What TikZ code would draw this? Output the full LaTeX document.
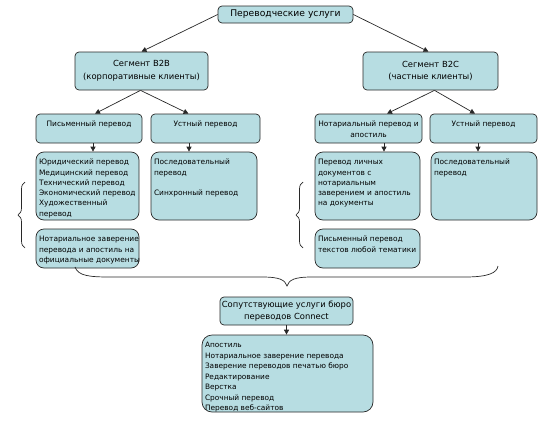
\documentclass[tikz,border=0pt]{standalone}
\usepackage{fontspec}
\setmainfont{DejaVu Sans}
\usepackage{tikz}
\usetikzlibrary{arrows.meta,positioning,decorations.pathreplacing}

\definecolor{cardfill}{RGB}{183,221,226}
\definecolor{cardline}{RGB}{40,40,40}

% text block pinned to the top of a card, lines kept as written
\newcommand{\toptext}[3]{\parbox[c][#2][t]{#1}{\vspace*{2.5pt}\begin{tabular}[t]{@{}l@{}}#3\end{tabular}}}
\newcommand{\topmid}[3]{\parbox[c][#2][t]{#1}{\centering\vspace*{2.5pt}\begin{tabular}[t]{@{}c@{}}#3\end{tabular}}}

\begin{document}
\begin{tikzpicture}[
    x=1pt, y=-1pt,
    card/.style={draw=cardline, fill=cardfill, line width=0.7pt, rounded corners=4pt, inner sep=3pt, align=center},
    bigcard/.style={card, rounded corners=8pt},
    headtext/.style={font=\fontsize{9.2}{11}\selectfont},
    segtext/.style={font=\fontsize{8.4}{12.5}\selectfont},
    smalltext/.style={font=\fontsize{7.45}{10.3}\selectfont},
    listtext/.style={font=\fontsize{7.4}{10.5}\selectfont},
    myedge/.style={-{Triangle[length=5pt,width=5pt]}, line width=0.7pt, cardline},
    bracket/.style={line width=0.7pt, cardline}
]
\useasboundingbox (0,0) rectangle (556,431);

% top level
\node[card, headtext, minimum width=135pt, minimum height=17pt, inner sep=0pt] (uslugi) at (285.5,14.5) {Переводческие услуги};

% segments
\node[card, segtext, minimum width=133pt, minimum height=38pt, inner sep=0pt] (b2b) at (141.5,71) {Сегмент B2B\\(корпоративные клиенты)};
\node[card, segtext, minimum width=135pt, minimum height=38pt, inner sep=0pt] (b2c) at (430.5,71) {Сегмент B2C\\(частные клиенты)};

% kinds of translation
\node[card, smalltext] (pis) at (89,128.5) {\topmid{100pt}{23pt}{Письменный перевод}};
\node[card, smalltext] (ustA) at (205.5,128.5) {\topmid{103pt}{23pt}{Устный перевод}};
\node[card, smalltext] (notar) at (368.5,128.5) {\topmid{101pt}{23pt}{Нотариальный перевод и\\апостиль}};
\node[card, smalltext] (ustB) at (483.5,128.5) {\topmid{101pt}{23pt}{Устный перевод}};

% B2B details
\node[bigcard, smalltext] (jur) at (87.5,186) {\toptext{97pt}{62pt}{Юридический перевод\\Медицинский перевод\\Технический перевод\\Экономический перевод\\Художественный\\перевод}};
\node[bigcard, smalltext] (zaver) at (87.5,248.5) {\toptext{97pt}{33pt}{Нотариальное заверение\\перевода и апостиль на\\официальные документы}};
\node[bigcard, smalltext] (posl) at (204,186) {\toptext{100pt}{62pt}{Последовательный\\перевод\\[10.3pt]Синхронный перевод}};

% B2C details
\node[bigcard, smalltext] (lichn) at (367.5,186) {\toptext{99pt}{62pt}{Перевод личных\\документов с\\нотариальным\\заверением и апостиль\\на документы}};
\node[bigcard, smalltext] (tekst) at (367.5,248.5) {\toptext{99pt}{33pt}{Письменный перевод\\текстов любой тематики}};
\node[bigcard, smalltext] (poslB) at (484,186) {\toptext{100pt}{62pt}{Последовательный\\перевод}};

% related services
\node[card, segtext, minimum width=133pt, minimum height=28pt, inner sep=0pt] (sop) at (286.5,311) {Сопутствующие услуги бюро\\переводов Connect};
\node[bigcard, listtext, rounded corners=10pt] (spisok) at (287.5,373.5) {\toptext{165pt}{71pt}{Апостиль\\Нотариальное заверение перевода\\Заверение переводов печатью бюро\\Редактирование\\Верстка\\Срочный перевод\\Перевод веб-сайтов}};

% arrows
\draw[myedge] (uslugi.west) -- (b2b.north);
\draw[myedge] (uslugi.east) -- ([xshift=-2pt]b2c.north);
\draw[myedge] ([xshift=-1pt]b2b.south) -- ([xshift=6pt]pis.north);
\draw[myedge] ([xshift=-1pt]b2b.south) -- ([xshift=-17pt]ustA.north);
\draw[myedge] ([xshift=4pt]b2c.south) -- ([xshift=18.5pt]notar.north);
\draw[myedge] ([xshift=4pt]b2c.south) -- ([xshift=-8.5pt]ustB.north);
\draw[myedge] ([xshift=4pt]pis.south) -- ([xshift=5.5pt]jur.north);
\draw[myedge] ([xshift=-16.5pt]ustA.south) -- ([xshift=-15pt]posl.north);
\draw[myedge] ([xshift=15.5pt]notar.south) -- ([xshift=16.5pt]lichn.north);
\draw[myedge] ([xshift=-5.5pt]ustB.south) -- ([xshift=-6pt]poslB.north);
\draw[myedge] (sop.south) -- (sop.south |- spisok.north);

% braces
\draw[bracket, decorate, decoration={brace, amplitude=7pt}] (25,248) -- (25,182);
\draw[bracket, decorate, decoration={brace, amplitude=7pt}] (303,248) -- (303,182);
\draw[bracket] (75,267) .. controls (78,276) and (90,277) .. (110,277)
    -- (262,277) .. controls (280,277) and (285,280) .. (287,286)
    .. controls (289,280) and (294,277) .. (312,277)
    -- (465,277) .. controls (488,277) and (497,273) .. (498,266);
\end{tikzpicture}
\end{document}
